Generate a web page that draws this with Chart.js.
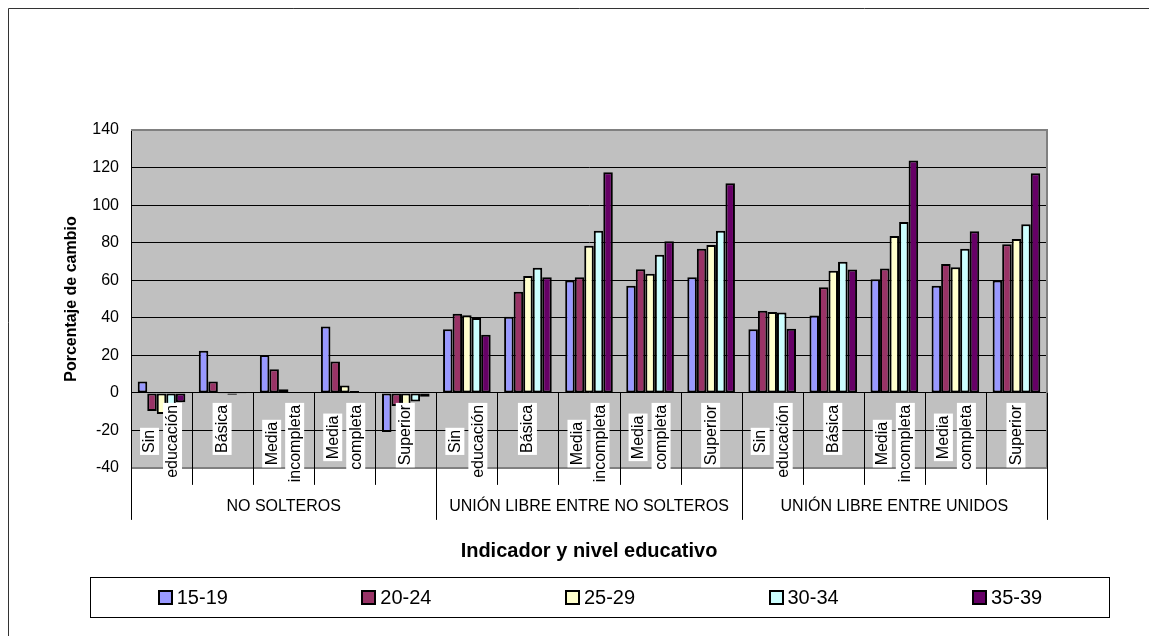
<!DOCTYPE html>
<html>
<head>
<meta charset="utf-8">
<script src="https://cdn.jsdelivr.net/npm/chart.js@4.4.1/dist/chart.umd.min.js"></script>
<style>
  html, body { margin: 0; padding: 0; background: #fff; }
  #wrap { position: relative; width: 1149px; height: 636px; overflow: hidden; }
  #legend {
    position: absolute; left: 90px; top: 577px; width: 1018px; height: 39px;
    border: 1px solid #000; display: flex;
    font-family: "Liberation Sans", Arial, sans-serif; font-size: 20px; color: #000;
  }
  .item { flex: 1; display: flex; align-items: center; justify-content: center; }
  .box { width: 11px; height: 11px; border: 2px solid #000; margin-right: 4px; }
</style>
</head>
<body>
<div id="wrap">
  <canvas id="chart" width="1149" height="636"></canvas>
  <div id="legend"></div>
</div>
<script>
var FONT = '"Liberation Sans", Arial, sans-serif';

var groups = ['NO SOLTEROS', 'UNIÓN LIBRE ENTRE NO SOLTEROS', 'UNIÓN LIBRE ENTRE UNIDOS'];
var levels = [['Sin', 'educación'], ['Básica'], ['Media', 'incompleta'], ['Media', 'completa'], ['Superior']];
var ageGroups = ['15-19', '20-24', '25-29', '30-34', '35-39'];
var colors = ['#9999FF', '#993366', '#FFFFCC', '#CCFFFF', '#660066'];
var yTicks = { min: -40, max: 140, step: 20 };

var s15_19 = [6, 22.4, 20.2, 35.3, -20.8, 33.9, 40.5, 59.8, 57, 61.6, 33.9, 41.2, 60.5, 57, 59.8];
var s20_24 = [-9.6, 6, 12.6, 16.7, -7, 42.1, 53.9, 61.6, 65.9, 76.7, 43.7, 56.3, 66.2, 68.7, 79.2];
var s25_29 = [-11.2, -0.5, 2, 3.9, -7.5, 41.4, 62.3, 78.3, 63.4, 78.8, 43.1, 65, 83.6, 66.9, 82];
var s30_34 = [-6.4, -1, 0.5, 1, -4.6, 39.9, 66.7, 86.3, 73.5, 86.3, 42.8, 69.8, 91, 76.8, 89.8];
var s35_39 = [-5, -0.5, 0.3, 0.5, -2, 30.9, 61.6, 117.5, 80.8, 111.7, 34.1, 65.7, 123.7, 86.1, 117];
var series = [s15_19, s20_24, s25_29, s30_34, s35_39];

// one key per bar cluster: group + level
var labels = [];
groups.forEach(function(g) {
  levels.forEach(function(l) { labels.push(g + ' | ' + l.join(' ')); });
});

var plotBg = {
  id: 'plotBg',
  beforeDraw: function(chart) {
    var a = chart.chartArea, ctx = chart.ctx;
    ctx.save();
    ctx.fillStyle = '#C0C0C0';
    ctx.fillRect(a.left, a.top, a.right - a.left, a.bottom - a.top);
    ctx.restore();
  }
};

var catAxis = {
  id: 'catAxis',
  afterDraw: function(chart) {
    var ctx = chart.ctx, a = chart.chartArea;
    var xs = chart.scales.x, ys = chart.scales.y;
    var y0 = ys.getPixelForValue(0);
    var w = xs.getPixelForValue(1) - xs.getPixelForValue(0);
    var first = xs.getPixelForValue(0) - w / 2;
    ctx.save();

    // plot frame (top/right/bottom)
    ctx.strokeStyle = '#808080';
    ctx.lineWidth = 2;
    ctx.beginPath();
    ctx.moveTo(a.left, a.top); ctx.lineTo(a.right, a.top);
    ctx.lineTo(a.right, a.bottom); ctx.lineTo(a.left, a.bottom);
    ctx.stroke();

    // outer chart border
    ctx.strokeStyle = '#333';
    ctx.lineWidth = 1;
    ctx.beginPath();
    ctx.moveTo(8.5, 640); ctx.lineTo(8.5, 8.5); ctx.lineTo(1160, 8.5);
    ctx.stroke();

    // category dividers
    ctx.strokeStyle = '#000';
    ctx.lineWidth = 1;
    for (var i = 0; i <= labels.length; i++) {
      var x = Math.round(first + i * w) + 0.5;
      var end = (i % levels.length === 0) ? y0 + 127 : y0 + 92;
      ctx.beginPath();
      ctx.moveTo(x, y0); ctx.lineTo(x, end);
      ctx.stroke();
    }

    // rotated level labels with white boxes
    ctx.font = '16px ' + FONT;
    ctx.textAlign = 'center';
    ctx.textBaseline = 'middle';
    labels.forEach(function(_, i) {
      var lines = levels[i % levels.length];
      var cx = xs.getPixelForValue(i);
      var maxW = Math.max.apply(null, lines.map(function(t) { return ctx.measureText(t).width; }));
      lines.forEach(function(t, j) {
        var tw = ctx.measureText(t).width;
        var lx = cx + (j - (lines.length - 1) / 2) * 23;
        ctx.save();
        ctx.translate(lx, y0 + 12 + maxW / 2);
        ctx.rotate(-Math.PI / 2);
        ctx.fillStyle = '#fff';
        ctx.fillRect(-tw / 2 - 2, -10, tw + 4, 19);
        ctx.fillStyle = '#000';
        ctx.fillText(t, 0, 0);
        ctx.restore();
      });
    });

    // group labels
    groups.forEach(function(g, k) {
      var gx = (xs.getPixelForValue(k * 5) + xs.getPixelForValue(k * 5 + 4)) / 2;
      ctx.fillStyle = '#000';
      ctx.fillText(g, gx, y0 + 114);
    });

    // axis title
    ctx.font = 'bold 20px ' + FONT;
    ctx.fillText('Indicador y nivel educativo', (a.left + a.right) / 2, 551);
    ctx.restore();
  }
};

var ctx = document.getElementById('chart').getContext('2d');
new Chart(ctx, {
  type: 'bar',
  data: {
    labels: labels,
    datasets: ageGroups.map(function(name, k) {
      return {
        label: name,
        data: series[k],
        backgroundColor: colors[k],
        borderColor: '#000',
        borderWidth: 2,
        borderSkipped: false,
        categoryPercentage: 0.78,
        barPercentage: 1
      };
    })
  },
  options: {
    responsive: false,
    animation: false,
    layout: { padding: { left: 58, right: 102, top: 130, bottom: 168 } },
    plugins: {
      legend: { display: false },
      tooltip: { enabled: false }
    },
    scales: {
      x: { display: false, offset: true },
      y: {
        min: yTicks.min,
        max: yTicks.max,
        ticks: { stepSize: yTicks.step, padding: 12, color: '#000', font: { family: FONT, size: 16 } },
        grid: { color: '#000', lineWidth: 1, drawTicks: false },
        border: { color: '#000', width: 1 },
        title: {
          display: true,
          text: 'Porcentaje de cambio',
          color: '#000',
          padding: 4,
          font: { family: FONT, size: 16, weight: 'bold' }
        },
        afterFit: function(s) { s.width = 73; }
      }
    }
  },
  plugins: [plotBg, catAxis]
});

// legend
var legend = document.getElementById('legend');
ageGroups.forEach(function(name, k) {
  var item = document.createElement('div');
  item.className = 'item';
  var box = document.createElement('span');
  box.className = 'box';
  box.style.background = colors[k];
  item.appendChild(box);
  item.appendChild(document.createTextNode(name));
  legend.appendChild(item);
});
</script>
</body>
</html>
